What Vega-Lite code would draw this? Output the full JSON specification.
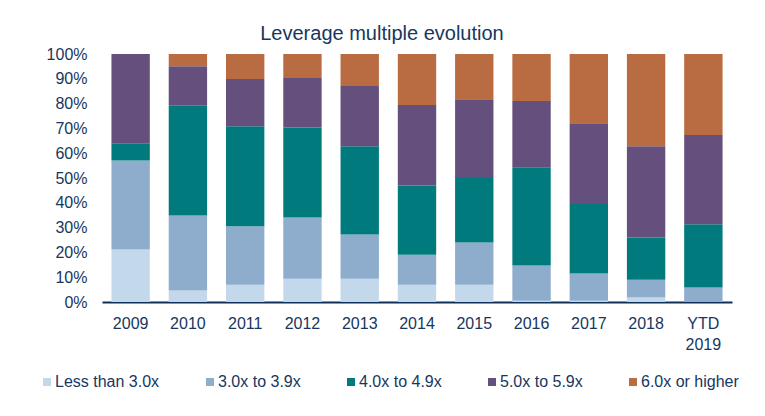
{
  "$schema": "https://vega.github.io/schema/vega-lite/v6.json",
  "autosize": {"type": "none"},
  "padding": {"top": 54, "left": 102, "right": 33, "bottom": 114},
  "width": 630,
  "height": 248,
  "title": {
    "text": "Leverage multiple evolution",
    "fontSize": 20,
    "fontWeight": "normal",
    "color": "#17375E",
    "anchor": "middle",
    "baseline": "alphabetic",
    "offset": -14,
    "dx": -35
  },
  "data": {
    "values": [
      {"year": "2009", "band": "Less than 3.0x", "rank": 1, "pct": 21.2},
      {"year": "2009", "band": "3.0x to 3.9x", "rank": 2, "pct": 35.9},
      {"year": "2009", "band": "4.0x to 4.9x", "rank": 3, "pct": 6.9},
      {"year": "2009", "band": "5.0x to 5.9x", "rank": 4, "pct": 36.0},
      {"year": "2009", "band": "6.0x or higher", "rank": 5, "pct": 0},
      {"year": "2010", "band": "Less than 3.0x", "rank": 1, "pct": 4.6},
      {"year": "2010", "band": "3.0x to 3.9x", "rank": 2, "pct": 30.3},
      {"year": "2010", "band": "4.0x to 4.9x", "rank": 3, "pct": 44.2},
      {"year": "2010", "band": "5.0x to 5.9x", "rank": 4, "pct": 16.0},
      {"year": "2010", "band": "6.0x or higher", "rank": 5, "pct": 4.9},
      {"year": "2011", "band": "Less than 3.0x", "rank": 1, "pct": 7.0},
      {"year": "2011", "band": "3.0x to 3.9x", "rank": 2, "pct": 23.5},
      {"year": "2011", "band": "4.0x to 4.9x", "rank": 3, "pct": 40.4},
      {"year": "2011", "band": "5.0x to 5.9x", "rank": 4, "pct": 19.0},
      {"year": "2011", "band": "6.0x or higher", "rank": 5, "pct": 10.1},
      {"year": "2012", "band": "Less than 3.0x", "rank": 1, "pct": 9.4},
      {"year": "2012", "band": "3.0x to 3.9x", "rank": 2, "pct": 24.7},
      {"year": "2012", "band": "4.0x to 4.9x", "rank": 3, "pct": 36.3},
      {"year": "2012", "band": "5.0x to 5.9x", "rank": 4, "pct": 19.9},
      {"year": "2012", "band": "6.0x or higher", "rank": 5, "pct": 9.7},
      {"year": "2013", "band": "Less than 3.0x", "rank": 1, "pct": 9.4},
      {"year": "2013", "band": "3.0x to 3.9x", "rank": 2, "pct": 17.8},
      {"year": "2013", "band": "4.0x to 4.9x", "rank": 3, "pct": 35.6},
      {"year": "2013", "band": "5.0x to 5.9x", "rank": 4, "pct": 24.3},
      {"year": "2013", "band": "6.0x or higher", "rank": 5, "pct": 12.9},
      {"year": "2014", "band": "Less than 3.0x", "rank": 1, "pct": 7.0},
      {"year": "2014", "band": "3.0x to 3.9x", "rank": 2, "pct": 12.1},
      {"year": "2014", "band": "4.0x to 4.9x", "rank": 3, "pct": 27.9},
      {"year": "2014", "band": "5.0x to 5.9x", "rank": 4, "pct": 32.4},
      {"year": "2014", "band": "6.0x or higher", "rank": 5, "pct": 20.6},
      {"year": "2015", "band": "Less than 3.0x", "rank": 1, "pct": 7.0},
      {"year": "2015", "band": "3.0x to 3.9x", "rank": 2, "pct": 17.0},
      {"year": "2015", "band": "4.0x to 4.9x", "rank": 3, "pct": 26.0},
      {"year": "2015", "band": "5.0x to 5.9x", "rank": 4, "pct": 31.8},
      {"year": "2015", "band": "6.0x or higher", "rank": 5, "pct": 18.2},
      {"year": "2016", "band": "Less than 3.0x", "rank": 1, "pct": 0.5},
      {"year": "2016", "band": "3.0x to 3.9x", "rank": 2, "pct": 14.2},
      {"year": "2016", "band": "4.0x to 4.9x", "rank": 3, "pct": 39.6},
      {"year": "2016", "band": "5.0x to 5.9x", "rank": 4, "pct": 26.7},
      {"year": "2016", "band": "6.0x or higher", "rank": 5, "pct": 19.0},
      {"year": "2017", "band": "Less than 3.0x", "rank": 1, "pct": 0.5},
      {"year": "2017", "band": "3.0x to 3.9x", "rank": 2, "pct": 11.0},
      {"year": "2017", "band": "4.0x to 4.9x", "rank": 3, "pct": 28.0},
      {"year": "2017", "band": "5.0x to 5.9x", "rank": 4, "pct": 32.6},
      {"year": "2017", "band": "6.0x or higher", "rank": 5, "pct": 27.9},
      {"year": "2018", "band": "Less than 3.0x", "rank": 1, "pct": 1.8},
      {"year": "2018", "band": "3.0x to 3.9x", "rank": 2, "pct": 7.2},
      {"year": "2018", "band": "4.0x to 4.9x", "rank": 3, "pct": 17.0},
      {"year": "2018", "band": "5.0x to 5.9x", "rank": 4, "pct": 36.8},
      {"year": "2018", "band": "6.0x or higher", "rank": 5, "pct": 37.2},
      {"year": "YTD 2019", "band": "Less than 3.0x", "rank": 1, "pct": 0},
      {"year": "YTD 2019", "band": "3.0x to 3.9x", "rank": 2, "pct": 5.8},
      {"year": "YTD 2019", "band": "4.0x to 4.9x", "rank": 3, "pct": 25.6},
      {"year": "YTD 2019", "band": "5.0x to 5.9x", "rank": 4, "pct": 35.9},
      {"year": "YTD 2019", "band": "6.0x or higher", "rank": 5, "pct": 32.7}
    ]
  },
  "mark": {"type": "bar"},
  "encoding": {
    "x": {
      "field": "year",
      "type": "nominal",
      "sort": null,
      "title": null,
      "scale": {"paddingInner": 0.33, "paddingOuter": 0.165},
      "axis": {
        "labelAngle": 0,
        "labelFontSize": 16,
        "labelColor": "#17375E",
        "labelPadding": 13,
        "labelLineHeight": 21,
        "labelExpr": "datum.value == 'YTD 2019' ? ['YTD', '2019'] : datum.value",
        "ticks": false,
        "domainColor": "#0E2F5A",
        "domainWidth": 2
      }
    },
    "y": {
      "field": "pct",
      "type": "quantitative",
      "stack": "normalize",
      "title": null,
      "axis": {
        "values": [0, 0.1, 0.2, 0.3, 0.4, 0.5, 0.6, 0.7, 0.8, 0.9, 1],
        "format": ".0%",
        "labelFontSize": 16,
        "labelColor": "#17375E",
        "labelPadding": 15,
        "ticks": false,
        "domain": false,
        "grid": false
      }
    },
    "order": {"field": "rank", "type": "quantitative", "sort": "ascending"},
    "color": {
      "field": "band",
      "type": "nominal",
      "scale": {
        "domain": ["Less than 3.0x", "3.0x to 3.9x", "4.0x to 4.9x", "5.0x to 5.9x", "6.0x or higher"],
        "range": ["#C3D9EB", "#8EADCC", "#007A7C", "#654F7C", "#B96B42"]
      },
      "legend": {
        "title": null,
        "orient": "none",
        "direction": "horizontal",
        "legendX": -63,
        "legendY": 320,
        "symbolType": "square",
        "symbolSize": 64,
        "symbolStrokeWidth": 0,
        "labelFontSize": 16,
        "labelColor": "#17375E",
        "labelOffset": 0,
        "columnPadding": 42,
        "padding": 0
      }
    }
  },
  "config": {
    "font": "Liberation Sans",
    "view": {"stroke": null}
  }
}
